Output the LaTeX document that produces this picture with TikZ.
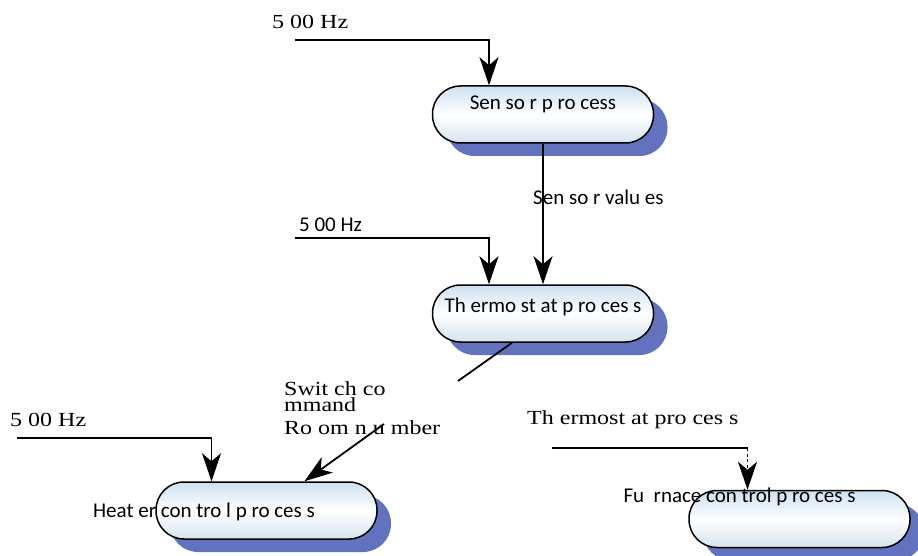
\documentclass[tikz,border=0pt]{standalone}
\usepackage{fontspec}
\setmainfont{Liberation Serif}
\newfontfamily\procfont{Carlito}
\newfontfamily\lblserif[FakeStretch=1.2]{Liberation Serif}
\usetikzlibrary{arrows.meta,shadows}

\definecolor{pilltop}{RGB}{205,224,240}
\definecolor{pillbot}{RGB}{214,227,236}
\definecolor{shadowblue}{RGB}{98,114,190}

\tikzset{
  proc/.style={draw=black, line width=1.5pt, rounded corners=28pt,
    minimum width=221pt, minimum height=57pt, inner sep=0pt,
    top color=pilltop, bottom color=pillbot, middle color=white,
    drop shadow={shadow xshift=14pt, shadow yshift=-13pt, fill=shadowblue, opacity=1}},
  proctext/.style={font=\procfont\fontsize{21}{24}\selectfont, inner sep=0pt},
  lbl/.style={font=\lblserif\fontsize{20}{20}\selectfont, inner sep=0pt, anchor=west},
  flow/.style={line width=1.8pt, -{Stealth[length=28pt, width=19pt, inset=8pt]}},
  wire/.style={line width=1.8pt},
}

\begin{document}
\begin{tikzpicture}[x=1pt, y=-1pt]
    \useasboundingbox (0,0) rectangle (918,556);

    % Processes
    \node[proc] (sensor) at (543,114.5) {};
    \node[proc] (thermostat) at (543,313.5) {};
    \node[proc] (heater) at (266.5,510.5) {};
    \node[proc] (furnace) at (799.5,519) {};

    \node[proctext] (sensorname) at ([yshift=10pt]sensor.center) {Sen so r p ro cess};
    \node[proctext] (thermostatname) at ([yshift=6.5pt]thermostat.center) {Th ermo st at p ro ces s};
    \node[proctext] (heatername) at ([xshift=-62.5pt, yshift=-1.5pt]heater.center) {Heat er con tro l p ro ces s};
    \node[proctext] (furnacename) at ([xshift=-60pt, yshift=22pt]furnace.center) {Fu\ \ rnace con trol p ro ces s};

    % Sensor input
    \node[lbl] (hzA) at (272,22) {5 00 Hz};
    \coordinate (hzAin) at (295,40);
    \draw[flow] (hzAin) -| ([xshift=-54pt]sensor.north);

    % Sensor -> thermostat
    \draw[flow] (sensor.south) -- (thermostat.north);
    \node[proctext, anchor=west] (sensorvals) at (533,197) {Sen so r valu es};

    \node[proctext, anchor=west] (hzB) at (299,225) {5 00 Hz};
    \coordinate (hzBin) at (295,238);
    \draw[flow] (hzBin) -| ([xshift=-54pt]thermostat.north);

    % Thermostat output
    \coordinate (thermoout) at (458,381);
    \draw[wire] ([xshift=-31pt]thermostat.south) -- (thermoout);

    % Heater inputs
    \node[lbl] (cmdA) at (284,389) {Swit ch co};
    \node[lbl] (cmdB) at (284,405) {mmand};
    \node[lbl] (cmdC) at (284,428) {Ro om n u mber};
    \coordinate (cmdin) at (384,424);
    \draw[flow] (cmdin) -- ([xshift=38pt]heater.north);

    \node[lbl] (hzC) at (10,420) {5 00 Hz};
    \coordinate (hzCin) at (17,438);
    \draw[flow] (hzCin) -| ([xshift=-55pt]heater.north);

    % Furnace input
    \node[lbl] (thermolbl) at (527,420) {Th ermost at pro ces s};
    \coordinate (furnin) at (552,448);
    \coordinate (furnbend) at (747.5,448);
    \draw[wire] (furnin) -- (furnbend);
    \draw[flow, dash pattern=on 3pt off 2.5pt] (furnbend) -- ([xshift=-52pt]furnace.north);
\end{tikzpicture}
\end{document}
